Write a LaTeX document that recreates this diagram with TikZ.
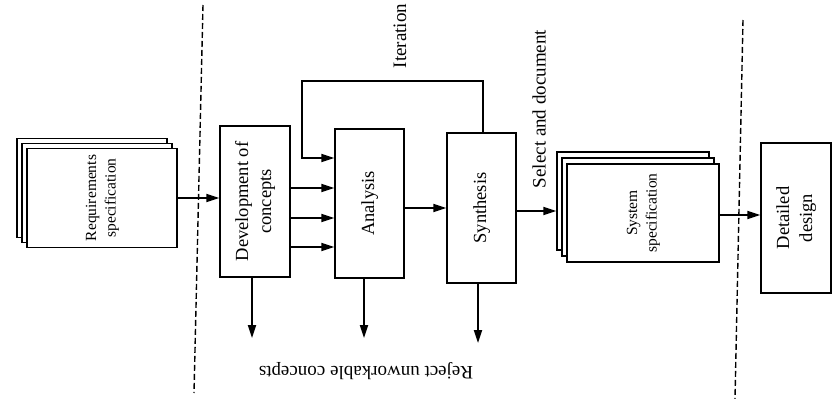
\documentclass[tikz,border=0pt]{standalone}
\usepackage{fontspec}
\setmainfont{Liberation Serif}
\usetikzlibrary{arrows.meta}

% vertical (bottom-to-top) multi-line label
\newcommand\vtext[1]{\rotatebox{90}{\begin{tabular}{@{}c@{}}#1\end{tabular}}}
\newcommand\boxfont{\fontsize{18.5}{23}\selectfont}
\newcommand\docfont{\fontsize{15.5}{19.5}\selectfont}
\newcommand\labfont{\fontsize{19}{23}\selectfont}

\begin{document}
\begin{tikzpicture}[x=1pt,y=-1pt,
  stage/.style={draw, line width=1.4pt, fill=white, inner sep=0pt,
                minimum width=69pt, minimum height=150pt, font=\boxfont},
  sheet/.style={draw, line width=1.3pt, fill=white, inner sep=0pt,
                minimum width=150pt, minimum height=99pt, font=\docfont},
  flow/.style={line width=1.9pt, -{Triangle[length=13pt,width=8pt]}},
  phase/.style={dash pattern=on 6pt off 3pt, line width=1.4pt},
  lab/.style={font=\labfont, inner sep=0pt}
]
\useasboundingbox (0,0) rectangle (833,399);

% phase boundaries
\coordinate (d1a) at (203,5);
\coordinate (d1b) at (194,393);
\coordinate (d2a) at (743,20);
\coordinate (d2b) at (735,399);
\draw[phase] (d1a) -- (d1b);
\draw[phase] (d2a) -- (d2b);

% requirements document stack
\node[sheet] (reqc) at (92,188) {};
\node[sheet] (reqb) at (97,193) {};
\node[sheet] (req)  at (102,198) {\vtext{Requirements\\specification}};

% process stages
\node[stage, minimum width=70pt, minimum height=151pt] (dev) at (255,201.5) {\vtext{Development of\\concepts}};
\node[stage, minimum height=149pt] (ana) at (369.5,203.5) {\vtext{Analysis}};
\node[stage] (syn) at (481.5,208) {\vtext{Synthesis}};

% system specification stack
\node[sheet, minimum width=152pt, minimum height=98pt] (sysc) at (633,201) {};
\node[sheet, minimum width=152pt, minimum height=98pt] (sysb) at (638,207) {};
\node[sheet, minimum width=152pt, minimum height=98pt] (sys)  at (643,213) {\vtext{System\\specification}};

\node[stage, minimum width=70pt] (det) at (796,218) {\vtext{Detailed\\design}};

% main flow
\draw[flow] (req.east) -- (req.east -| dev.west);
\foreach \yy in {188,218,247}
  \draw[flow] (dev.east |- 0,\yy) -- (ana.west |- 0,\yy);
\draw[flow] (ana.east |- 0,208) -- (syn.west |- 0,208);
\draw[flow] (syn.east |- 0,211) -- (sysc.west |- 0,211);
\draw[flow] (sys.east |- 0,215) -- (det.west |- 0,215);

% iteration loop
\coordinate (itA) at (483,81);
\coordinate (itB) at (302,81);
\draw[flow] (syn.north -| itA) -- (itA) -- (itB) |- (ana.west |- 0,158);
\node[lab, rotate=90] (itl) at (400,36) {Iteration};

% rejected concepts
\coordinate (r1) at (252,338);
\coordinate (r2) at (364,338);
\coordinate (r3) at (478,343);
\draw[flow] (r1 |- dev.south) -- (r1);
\draw[flow] (r2 |- ana.south) -- (r2);
\draw[flow] (r3 |- syn.south) -- (r3);
\node[lab, rotate=180] (rej) at (366,371) {Reject unworkable concepts};

\node[lab, rotate=90] (sel) at (539,109) {Select and document};
\end{tikzpicture}
\end{document}
